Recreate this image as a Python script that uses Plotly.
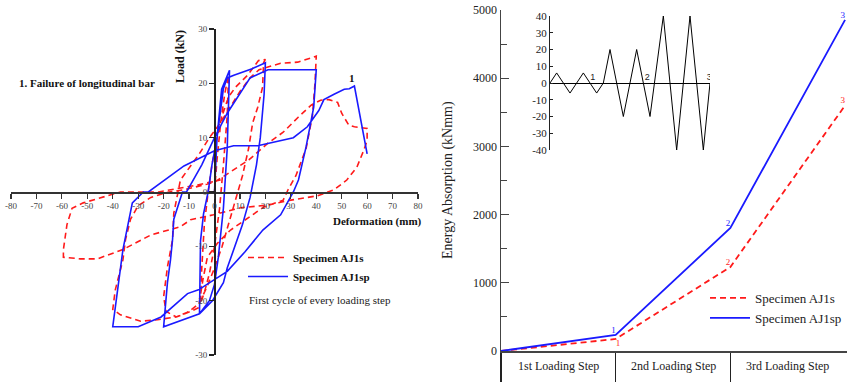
import plotly.graph_objects as go

W, H = 847, 382

# ---------------- Left chart: hysteresis (first cycle of every loading step)
aj1s_def = [0, 1, 2.5, 4, 5.5, 5, 3.5, 2, 0, -2, -4, -5.5,
            -5, -4, -2.5, -1, 1, 3, 5.5, 8.3, 13, 17.3, 20,
            19.3, 18.9, 17, 15, 13.4, 11, 8.5, 6, 3, 0, -3, -6, -10, -15, -19, -20,
            -18.5, -16.5, -16, -13.4, -10, -6, -2, 2, 6, 10, 14, 17.5, 21, 26, 32.7, 38, 40,
            39.5, 38.5, 36, 32, 29, 27, 19.3, 10.2, 6.3, 1.2, -2.8, -4.5, -6.3, -9.4, -15, -22.4, -29, -37, -40,
            -39, -36, -35, -33, -30, -25, -18, -12, 0, 6.3, 13.5, 21, 27, 33, 38, 41.7, 45, 48.4, 50, 52.8, 55, 60,
            60, 58.7, 56, 52, 47, 40.5, 30, 20.9, 10.2, -0.4, -9.4, -13.4, -25, -36, -46, -52.8, -59.4, -59.4,
            -58, -56, -51.6, -37, -22, -6.7, 2.4]
aj1s_load = [0, 6, 13, 18, 21.5, 14, 5, -3, -10, -15, -18.5, -20.5,
             -14, -6, 0, 5, 10, 14, 17.5, 19.3, 21.5, 24.2, 24.4,
             23.8, 19.3, 15.6, 12.7, 8, 3, -1, -5, -10, -14, -17.5, -20.5, -22, -23, -22, -19.3,
             -13.8, -8.8, -3.9, 2.2, 4.5, 7, 10, 12.5, 15.5, 18.5, 21, 22.5, 23, 23.7, 23.9, 24.6, 25,
             20, 14, 8, 3, 0.5, -1.5, -2.8, -5.7, -7, -9.4, -12, -16, -21.3, -22, -23, -23.5, -23.8, -22.6, -21.6,
             -18, -12.5, -8.8, -5, -2.5, -1, 0, 0.4, 1.8, 3.7, 5.9, 9, 11, 13.8, 16, 16.9, 17, 16.5, 14.5, 12.3, 12, 11.7,
             9.5, 7.7, 4.6, 2.2, 0.4, -0.7, -1.5, -2.4, -2.9, -4.2, -5.1, -6.4, -7.9, -10.6, -12.3, -12.3, -12, -10.6,
             -6, -3, -2, 0, 0, 1.3, 2.2]

aj1sp_def = [0, 0.5, 1, 2.8, 5.9, 5, 3.5, 1.5, 0, -2, -5.9,
             -5.5, -4.3, -2.5, -1, 1, 2.5, 3.5, 5, 7.6, 14.8, 20,
             19.5, 18, 16.5, 14, 11, 8, 5, 3.5, -0.8, -5.9, -20,
             -19.3, -18.5, -17.3, -16.5, -16, -12.6, -11, -5, 0, 5, 14, 19, 21, 40,
             39, 36, 33, 31, 26, 19, 12, 5, -6.3, -10.6, -21, -30, -40,
             -36, -32.3, -28, -26, -12, 0, 7.5, 17, 31, 36.5, 41, 43, 47, 51, 53, 55, 60]
aj1sp_load = [0, 5, 10, 18.9, 22.4, 8, -3, -12, -17, -20, -22.4,
              -9, -4, 0, 5, 10, 15, 19, 21, 21.5, 22.7, 23.8,
              18, 10, 5, -1, -6, -10, -14, -16.7, -20, -22.4, -24.8,
              -21, -16.7, -12.5, -8.8, -5, 0, 0, 5, 10, 14.5, 21, 22, 22.5, 22.5,
              15.6, 8.3, 2.2, 0, -4.2, -7, -11, -14.6, -18, -18.7, -23, -24.8, -24.8,
              -10.6, -2, 0, 0, 4.8, 7.6, 8.5, 8.5, 10, 12, 15, 17, 18, 18.9, 19, 19.5, 7]

def_ticks = list(range(-80, 81, 10))
load_ticks = list(range(-30, 31, 10))

# ---------------- Right chart: energy absorption
steps = [0, 1, 2, 3]
step_labels = ["1st Loading Step", "2nd Loading Step", "3rd Loading Step"]
step_label_pos = [0.5, 1.5, 2.5]
energy_aj1s = [0, 176, 1232, 3600]
energy_aj1sp = [0, 235, 1805, 4855]
energy_point_labels = ["", "1", "2", "3"]
energy_ticks = [0, 1000, 2000, 3000, 4000, 5000]

# ---------------- Inset: loading history
history_t = [0, 1, 3, 5, 7, 8, 9, 11, 13, 15, 17, 19, 21, 23, 24]
history_d = [0, 6, -6, 6, -6, 0, 20, -20, 20, -20, 40, -40, 40, -40, 0]
history_ticks = list(range(-40, 41, 10))
history_label_t = [6.4, 14.6, 23.9]
history_label_d = [3.2, 3.2, 3.2]
history_labels = ["1", "2", "3"]

RED = "#ff1a1a"
BLUE = "#1a1aff"
SERIF = "Liberation Serif, Times New Roman, serif"


def hyphen_labels(vals):
    return [str(v) for v in vals]


fig = go.Figure()

# left hysteresis
fig.add_trace(go.Scatter(x=aj1s_def, y=aj1s_load, mode="lines", name="Specimen AJ1s",
                         line=dict(color=RED, width=1.6, dash="6px,4px"),
                         xaxis="x", yaxis="y", legend="legend"))
fig.add_trace(go.Scatter(x=aj1sp_def, y=aj1sp_load, mode="lines", name="Specimen AJ1sp",
                         line=dict(color=BLUE, width=1.6),
                         xaxis="x", yaxis="y", legend="legend"))

# right energy
fig.add_trace(go.Scatter(x=steps, y=energy_aj1s, mode="lines+text", name="Specimen AJ1s",
                         text=energy_point_labels,
                         textposition=["top left", "bottom right", "top left", "top left"],
                         textfont=dict(family=SERIF, size=9, color=RED),
                         line=dict(color=RED, width=1.8, dash="6px,4px"),
                         xaxis="x2", yaxis="y2", legend="legend2"))
fig.add_trace(go.Scatter(x=steps, y=energy_aj1sp, mode="lines+text", name="Specimen AJ1sp",
                         text=energy_point_labels,
                         textposition=["top left", "top left", "top left", "top left"],
                         textfont=dict(family=SERIF, size=9, color=BLUE),
                         line=dict(color=BLUE, width=1.8),
                         xaxis="x2", yaxis="y2", legend="legend2"))

# inset
fig.add_trace(go.Scatter(x=history_t, y=history_d, mode="lines", showlegend=False,
                         line=dict(color="black", width=1), xaxis="x3", yaxis="y3"))
fig.add_trace(go.Scatter(x=history_label_t, y=history_label_d, mode="text", showlegend=False,
                         text=history_labels, textposition="middle center",
                         textfont=dict(family="Liberation Sans, Arial, sans-serif", size=9, color="#222"),
                         xaxis="x3", yaxis="y3"))

tickfont_left = dict(family=SERIF, size=9, color="#444")

fig.update_layout(
    width=W, height=H,
    margin=dict(l=0, r=0, t=0, b=0, pad=0, autoexpand=False),
    paper_bgcolor="white", plot_bgcolor="rgba(0,0,0,0)",
    hovermode=False,
    xaxis=dict(domain=[11 / W, 418 / W], range=[-80, 80], anchor="free", position=1 - 192 / H,
               tickvals=def_ticks, ticktext=hyphen_labels(def_ticks),
               ticks="outside", ticklen=5, tickwidth=1.2, tickcolor="#333",
               showline=True, linecolor="#333", linewidth=1.5, showgrid=False, zeroline=False,
               tickfont=tickfont_left, automargin=False),
    yaxis=dict(domain=[1 - 355 / H, 1 - 29 / H], range=[-30, 30], anchor="free", position=214 / W,
               tickvals=load_ticks, ticktext=hyphen_labels(load_ticks),
               ticks="outside", ticklen=5, tickwidth=1.2, tickcolor="#222",
               showline=True, linecolor="#222", linewidth=1.5, showgrid=False, zeroline=False,
               tickfont=tickfont_left, automargin=False),
    xaxis2=dict(domain=[501 / W, 1.0], range=[0, 3.017], anchor="y2",
                tickvals=[0, 1, 2], ticks="outside", ticklen=32, tickwidth=1.2, tickcolor="#222",
                showticklabels=False, showline=True, linecolor="#444", linewidth=1.5,
                showgrid=False, zeroline=False, automargin=False),
    yaxis2=dict(domain=[1 - 351 / H, 1 - 10 / H], range=[0, 5000], anchor="x2",
                tickvals=energy_ticks, ticktext=hyphen_labels(energy_ticks),
                ticks="inside", ticklen=8, tickwidth=1.2, tickcolor="#444",
                minor=dict(dtick=500, ticks="inside", ticklen=6, tickwidth=1.2, tickcolor="#444"),
                showline=True, linecolor="#444", linewidth=1.5, showgrid=False, zeroline=False,
                tickfont=dict(family=SERIF, size=12, color="#222"), automargin=False),
    xaxis3=dict(domain=[550 / W, 710 / W], range=[0, 24], anchor="y3", visible=False, automargin=False),
    yaxis3=dict(domain=[1 - 150 / H, 1 - 16 / H], range=[-40, 40], anchor="x3",
                tickvals=history_ticks, ticktext=hyphen_labels(history_ticks),
                ticks="inside", ticklen=3, tickcolor="#222",
                showline=True, linecolor="#222", linewidth=1, showgrid=False,
                zeroline=True, zerolinecolor="black", zerolinewidth=1,
                tickfont=dict(family=SERIF, size=11, color="#222"), automargin=False),
    legend=dict(x=243 / W, y=1 - 243 / H, xanchor="left", yanchor="top",
                bgcolor="rgba(0,0,0,0)", font=dict(family=SERIF, size=11, color="#111", weight="bold"),
                itemwidth=40, tracegroupgap=0),
    legend2=dict(x=705 / W, y=1 - 283 / H, xanchor="left", yanchor="top",
                 bgcolor="rgba(0,0,0,0)", font=dict(family=SERIF, size=13, color="#222"),
                 itemwidth=40, tracegroupgap=0),
    showlegend=True,
)

annotations = [
    dict(text="<b>Load (kN)</b>", x=180 / W, y=1 - 57 / H, textangle=-90,
         font=dict(family=SERIF, size=12, color="#111")),
    dict(text="<b>Deformation (mm)</b>", x=377 / W, y=1 - 221 / H,
         font=dict(family=SERIF, size=11, color="#111")),
    dict(text="<b>1. Failure of longitudinal bar</b>", x=17 / W, y=1 - 83 / H, xanchor="left",
         font=dict(family=SERIF, size=11, color="#111")),
    dict(text="<b>1</b>", x=352 / W, y=1 - 78 / H,
         font=dict(family=SERIF, size=11, color="#111")),
    dict(text="First cycle of every loading step", x=247 / W, y=1 - 300 / H, xanchor="left",
         font=dict(family=SERIF, size=11, color="#222")),
    dict(text="Energy Absorption (kNmm)", x=448 / W, y=1 - 180 / H, textangle=-90,
         font=dict(family=SERIF, size=14, color="#222")),
]
for lbl, pos in zip(step_labels, step_label_pos):
    annotations.append(dict(text=lbl, x=pos, xref="x2", y=1 - 366 / H, yref="paper",
                            font=dict(family=SERIF, size=12, color="#222")))
for a in annotations:
    a.setdefault("xref", "paper")
    a.setdefault("yref", "paper")
    a.setdefault("xanchor", "center")
    a.setdefault("yanchor", "middle")
    a["showarrow"] = False
fig.update_layout(annotations=annotations)

fig.write_html("out.html",
               config={"displayModeBar": False, "staticPlot": True},
               post_script="document.body.style.margin='0';document.body.style.padding='0';"
                           "document.body.style.overflow='hidden';")
